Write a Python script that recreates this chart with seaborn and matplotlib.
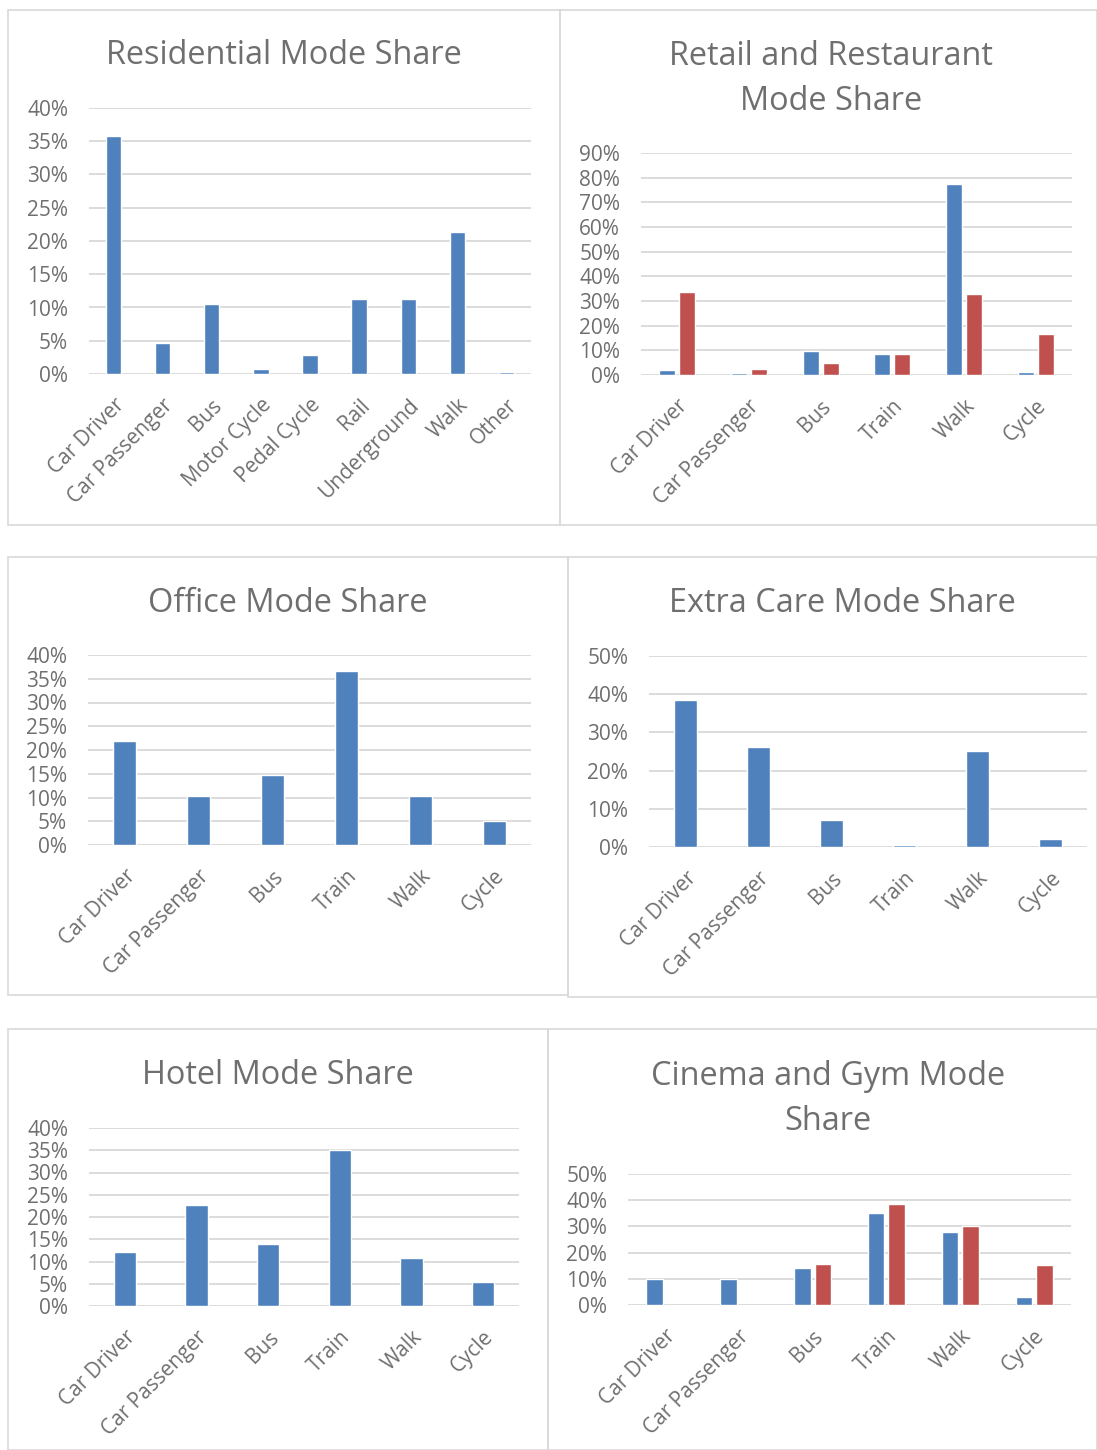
import pandas as pd
import matplotlib.pyplot as plt
import seaborn as sns
from matplotlib.patches import Rectangle
from matplotlib.ticker import PercentFormatter, MultipleLocator

# Mode share data (percent)
res_modes = ['Car Driver', 'Car Passenger', 'Bus', 'Motor Cycle', 'Pedal Cycle',
             'Rail', 'Underground', 'Walk', 'Other']
res_share = [35.8, 4.6, 10.6, 0.8, 2.9, 11.3, 11.3, 21.3, 0.35]

six_modes = ['Car Driver', 'Car Passenger', 'Bus', 'Train', 'Walk', 'Cycle']
retail_s1 = [2.0, 0.7, 9.6, 8.7, 77.5, 1.35]
retail_s2 = [33.8, 2.4, 4.9, 8.7, 33.0, 16.6]

office_share = [21.8, 10.4, 14.7, 36.6, 10.4, 5.1]
extra_care_share = [38.5, 26.3, 7.1, 0.5, 25.1, 2.0]
hotel_share = [12.1, 22.6, 14.0, 35.0, 10.7, 5.3]

cinema_s1 = [9.9, 9.9, 14.0, 35.0, 28.0, 2.9]
cinema_s2 = [None, None, 15.5, 38.7, 30.3, 15.1]

BLUE = '#4f81bd'
RED = '#c0504d'
GREY = '#6f6f6f'
GRID = '#d9d9d9'

sns.set_theme(style='white')
plt.rcParams['font.family'] = ['Open Sans', 'DejaVu Sans']

W, H = 1097, 1450
fig = plt.figure(figsize=(W / 100, H / 100), dpi=100)


def px_axes(x0, x1, ytop, ybot):
    return fig.add_axes([x0 / W, 1 - ybot / H, (x1 - x0) / W, (ybot - ytop) / H])


def style(ax, ymax, step):
    ax.set_ylim(0, ymax)
    ax.yaxis.set_major_locator(MultipleLocator(step))
    ax.yaxis.set_major_formatter(PercentFormatter(100, decimals=0))
    ax.grid(axis='y', color=GRID, linewidth=1.3)
    ax.set_axisbelow(True)
    for s in ax.spines.values():
        s.set_visible(False)
    ax.set_xlabel('')
    ax.set_ylabel('')
    ax.tick_params(axis='both', length=0, labelsize=15, labelcolor=GREY)
    ax.tick_params(axis='y', pad=15)
    ax.tick_params(axis='x', pad=15)
    plt.setp(ax.get_xticklabels(), rotation=45, ha='right', rotation_mode='anchor')


def single(ax, modes, vals, ymax, step):
    sns.barplot(x=modes, y=vals, color=BLUE, saturation=1, width=0.31,
                errorbar=None, ax=ax)
    style(ax, ymax, step)


def double(ax, modes, s1, s2, ymax, step):
    df = pd.DataFrame({'mode': modes * 2,
                       'share': s1 + s2,
                       'series': ['Series 1'] * len(modes) + ['Series 2'] * len(modes)})
    df = df.dropna()
    sns.barplot(data=df, x='mode', y='share', hue='series', order=modes,
                hue_order=['Series 1', 'Series 2'], palette=[BLUE, RED],
                saturation=1, width=0.556, gap=0.2, errorbar=None,
                legend=False, ax=ax)
    style(ax, ymax, step)


# panel frames
for x0, y0, x1, y1 in [(8, 10, 560, 525), (560, 10, 1097, 525),
                       (8, 557, 568, 995), (568, 557, 1097, 997),
                       (8, 1029, 548, 1450), (548, 1029, 1097, 1450)]:
    fig.patches.append(Rectangle((x0 / W, 1 - y1 / H), (x1 - x0) / W, (y1 - y0) / H,
                                 transform=fig.transFigure, fill=False,
                                 edgecolor=GRID, linewidth=1.2))

ax1 = px_axes(89, 531, 108, 374)
single(ax1, res_modes, res_share, 40, 5)
ax2 = px_axes(641, 1072, 153, 375)
double(ax2, six_modes, retail_s1, retail_s2, 90, 10)
ax3 = px_axes(88, 531, 655, 845)
single(ax3, six_modes, office_share, 40, 5)
ax4 = px_axes(649, 1087, 656, 847)
single(ax4, six_modes, extra_care_share, 50, 10)
ax5 = px_axes(89, 519, 1128, 1306)
single(ax5, six_modes, hotel_share, 40, 5)
ax6 = px_axes(628, 1071, 1174, 1305)
double(ax6, six_modes, cinema_s1, cinema_s2, 50, 10)

titles = [('Residential Mode Share', 284, 56),
          ('Retail and Restaurant\nMode Share', 831, 79),
          ('Office Mode Share', 288, 604),
          ('Extra Care Mode Share', 842, 604),
          ('Hotel Mode Share', 278, 1076),
          ('Cinema and Gym Mode\nShare', 828, 1099)]
for t, x, y in titles:
    fig.text(x / W, 1 - y / H, t, ha='center', va='center', fontsize=23.4,
             color=GREY, linespacing=1.5)

fig.savefig('out.png', dpi=100)
